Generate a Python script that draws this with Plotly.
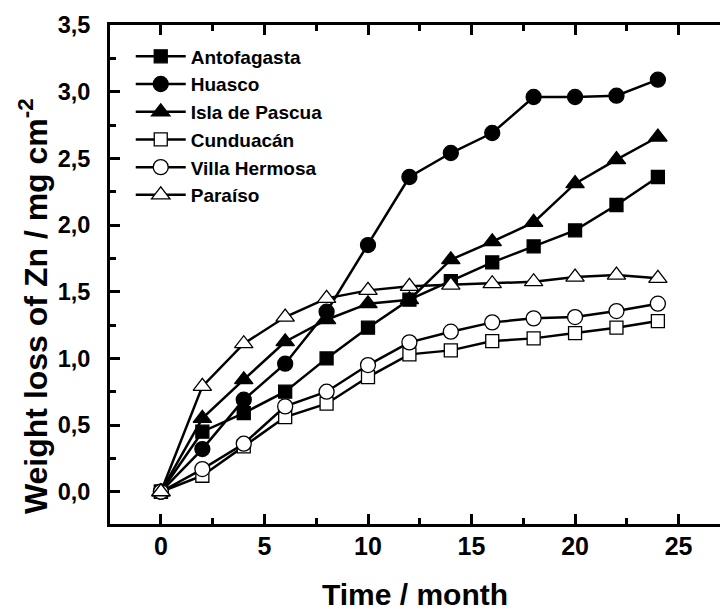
import plotly.graph_objects as go

time_months = [0, 2, 4, 6, 8, 10, 12, 14, 16, 18, 20, 22, 24]
antofagasta = [0, 0.45, 0.59, 0.75, 1.00, 1.23, 1.44, 1.58, 1.72, 1.84, 1.96, 2.15, 2.36]
huasco = [0, 0.32, 0.69, 0.96, 1.35, 1.85, 2.36, 2.54, 2.69, 2.96, 2.96, 2.97, 3.09]
isla_de_pascua = [0, 0.55, 0.84, 1.125, 1.29, 1.41, 1.44, 1.74, 1.875, 2.02, 2.31, 2.49, 2.66]
cunduacan = [0, 0.12, 0.34, 0.56, 0.66, 0.86, 1.03, 1.06, 1.13, 1.15, 1.19, 1.23, 1.28]
villa_hermosa = [0, 0.17, 0.36, 0.64, 0.75, 0.95, 1.12, 1.20, 1.27, 1.30, 1.31, 1.355, 1.41]
paraiso = [0, 0.79, 1.11, 1.31, 1.45, 1.51, 1.54, 1.55, 1.56, 1.575, 1.61, 1.625, 1.60]

series = [
    ("Antofagasta", antofagasta, "square", "black"),
    ("Huasco", huasco, "circle", "black"),
    ("Isla de Pascua", isla_de_pascua, "triangle-up", "black"),
    ("Cunduacán", cunduacan, "square", "white"),
    ("Villa Hermosa", villa_hermosa, "circle", "white"),
    ("Paraíso", paraiso, "triangle-up", "white"),
]
marker_sizes = {"square": 13, "circle": 15, "triangle-up": 16}

FONT = "Liberation Sans, Arial, sans-serif"
Y_TITLE = "Weight loss of Zn / mg cm<sup>-2</sup>"

fig = go.Figure()
for name, vals, sym, fill in series:
    fig.add_trace(go.Scatter(
        x=time_months, y=vals, name=name, mode="lines+markers",
        line=dict(color="black", width=2.5),
        marker=dict(symbol=sym, size=marker_sizes[sym], color=fill,
                    line=dict(color="black", width=1.3)),
    ))

axis_common = dict(
    showline=True, linecolor="black", linewidth=3,
    ticks="inside", ticklen=10, tickwidth=3, tickcolor="black",
    showgrid=False, zeroline=False,
)
minor_common = dict(ticks="inside", ticklen=6, tickwidth=3, tickcolor="black")

YRANGE = [-0.242, 3.5]

fig.update_layout(
    width=720, height=611,
    margin=dict(l=110, r=0, t=25, b=87),
    paper_bgcolor="white", plot_bgcolor="white",
    separators=",.",
    font=dict(family=FONT, color="black"),
    xaxis=dict(
        range=[-2.46, 27.0], tick0=0, dtick=5, mirror="ticks",
        minor=dict(dtick=2.5, tick0=0, **minor_common),
        tickfont=dict(family=FONT, size=25, color="black", weight="bold"),
        ticklabelstandoff=-2,
        title=dict(text="Time / month", font=dict(family=FONT, size=30, color="black", weight="bold"), standoff=26),
        **axis_common,
    ),
    yaxis=dict(
        range=YRANGE, tick0=0, dtick=0.5, tickformat=".1f",
        minor=dict(dtick=0.25, tick0=0, **minor_common),
        tickfont=dict(family=FONT, size=23.5, color="black", weight="bold"),
        ticklabelstandoff=12,
        **axis_common,
    ),
    yaxis2=dict(
        overlaying="y", side="right", anchor="x", range=YRANGE, tick0=0, dtick=0.5,
        showline=False, showgrid=False, zeroline=False, showticklabels=False,
        ticks="inside", ticklen=10, tickwidth=3, tickcolor="black",
        minor=dict(dtick=0.25, tick0=0, **minor_common),
    ),
    legend=dict(
        x=0.034, y=0.975, xanchor="left", yanchor="top",
        bgcolor="rgba(0,0,0,0)", itemwidth=50, tracegroupgap=0,
        font=dict(family=FONT, size=19, color="black", weight="bold"),
    ),
    showlegend=True,
    annotations=[dict(
        text=Y_TITLE, textangle=-90, xref="paper", yref="paper",
        x=-0.126, y=0.437, xanchor="center", yanchor="middle", showarrow=False,
        font=dict(family=FONT, size=32, color="black", weight="bold"),
    )],
)

fig.write_html("out.html")
